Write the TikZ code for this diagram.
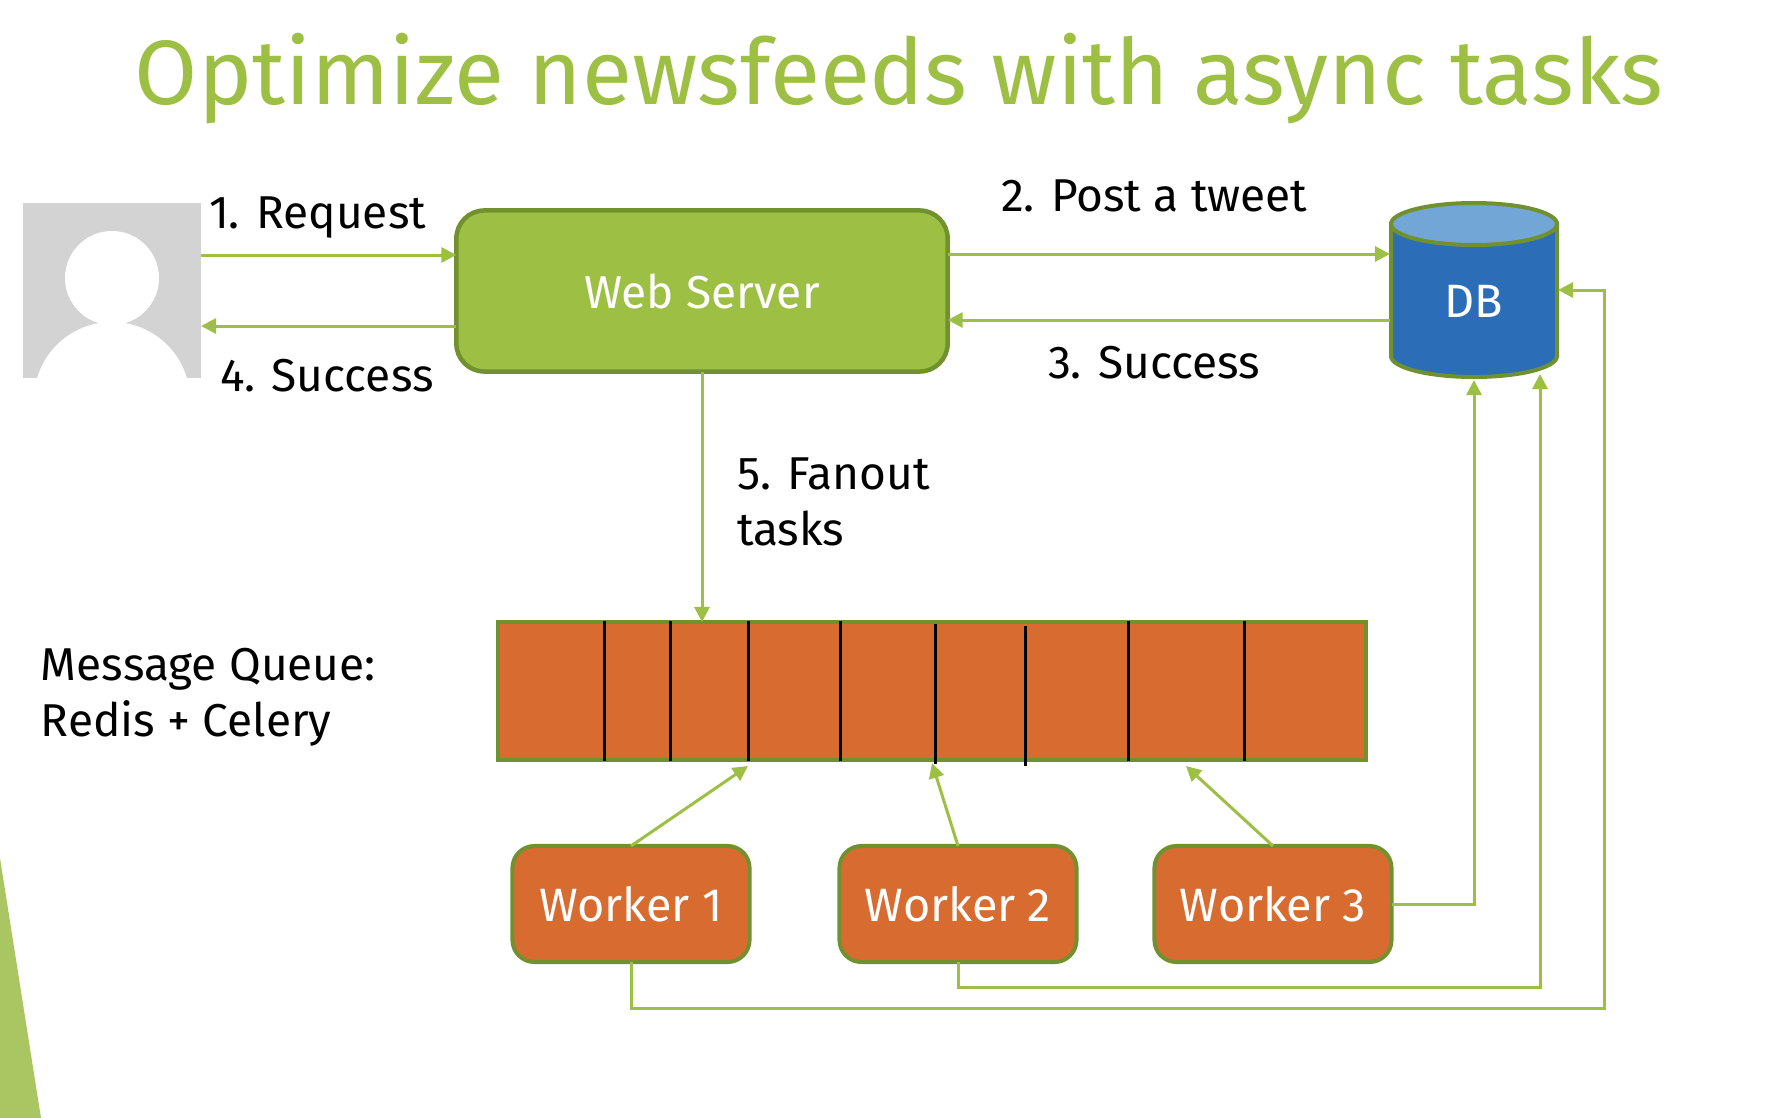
\documentclass[tikz,border=0pt]{standalone}
\usepackage{fontspec}
\setmainfont{Fira Sans}
\usetikzlibrary{arrows.meta}
\definecolor{leaf}{HTML}{9DC044}
\definecolor{leafdark}{HTML}{71912F}
\definecolor{leafpale}{HTML}{AAC662}
\definecolor{rust}{HTML}{D86C30}
\definecolor{dbblue}{HTML}{2B6EB7}
\definecolor{dbtop}{HTML}{71A6D6}
\definecolor{avatar}{HTML}{D3D3D3}

\begin{document}
\begin{tikzpicture}[x=0.01cm,y=-0.01cm]
\tikzstyle{every node}+=[inner sep=0pt,outer sep=0pt]
\tikzstyle{tag}=[anchor=base west,font=\fontsize{13.1}{15.9}\selectfont,align=left]
\tikzstyle{webbox}=[draw=leafdark,line width=0.045cm,fill=leaf,rounded corners=0.28cm,text=white,minimum width=4.91cm,minimum height=1.61cm,font=\fontsize{13.1}{16}\selectfont]
\tikzstyle{workerbox}=[draw=leafdark,line width=0.04cm,fill=rust,rounded corners=0.22cm,text=white,minimum width=2.37cm,minimum height=1.16cm,font=\fontsize{13.3}{16}\selectfont]
\tikzstyle{flow}=[draw=leaf,line width=0.03cm,-{Triangle[length=0.15cm,width=0.15cm]}]
\tikzstyle{slot}=[black,line width=0.03cm]
\useasboundingbox (0,0) rectangle (1784,1118);
\fill [leafpale] (0,858) -- (41,1118) -- (0,1118) -- cycle;
\node [anchor=base,text=leaf,font=\fontsize{26}{30}\selectfont] (title) at (899,104) {Optimize newsfeeds with async tasks};
\node [fill=avatar,minimum width=1.78cm,minimum height=1.75cm] (user) at (112,290.5) {};
\begin{scope}
\clip (23,203) rectangle (201,378);
\fill [white] (112,278) circle (47);
\fill [white] (112,400) circle (78);
\end{scope}
\node [webbox] (web) at (702,291) {Web Server};
\draw [draw=leafdark,fill=dbblue,line width=0.04cm] (1391,224) -- (1391,356) arc (180:0:83 and 21) -- (1557,224) -- cycle;
\draw [draw=leafdark,fill=dbtop,line width=0.04cm] (1474,224) ellipse (83 and 21);
\node [minimum width=1.68cm,minimum height=1.78cm] (db) at (1474,291) {};
\node [text=white,font=\fontsize{13.3}{16}\selectfont] (dbname) at (1474,301) {DB};
\node [draw=leafdark,line width=0.04cm,fill=rust,minimum width=8.68cm,minimum height=1.38cm] (queue) at (932,691) {};
\draw [slot] (604,621) -- (604,761);
\draw [slot] (670,621) -- (670,761);
\draw [slot] (748,621) -- (748,761);
\draw [slot] (840,621) -- (840,761);
\draw [slot] (935,624) -- (935,764);
\draw [slot] (1025,626) -- (1025,766);
\draw [slot] (1128,621) -- (1128,761);
\draw [slot] (1244,621) -- (1244,761);
\node [workerbox] (worker1) at (631,904) {Worker 1};
\node [workerbox] (worker2) at (958,904) {Worker 2};
\node [workerbox] (worker3) at (1273,904) {Worker 3};
\node [tag] (request) at (209,228) {1. Request};
\node [tag] (post) at (1001,211) {2. Post a tweet};
\node [tag] (dbok) at (1048,378) {3. Success};
\node [tag] (userok) at (220,391) {4. Success};
\node [tag] (fanout) at (737,545) {5. Fanout\\tasks};
\node [tag] (mq) at (41,736) {Message Queue:\\Redis + Celery};
\draw [flow] (user.east |- 0,255) -- (web.west |- 0,255);
\draw [flow] (web.west |- 0,326) -- (user.east |- 0,326);
\draw [flow] (web.east |- 0,254) -- (db.west |- 0,254);
\draw [flow] (db.west |- 0,320) -- (web.east |- 0,320);
\draw [flow] (web.south) -- (queue.north -| web.south);
\draw [flow] (worker1.north) -- (748,766);
\draw [flow] (worker2.north) -- (932,763);
\draw [flow] (worker3.north) -- (1186,766);
\draw [flow] (worker3.east) -| (db.south);
\draw [flow] (worker2.south) |- (1540,987) -- (1540,374);
\draw [flow] (worker1.south) |- (1604,1008) |- (db.east |- 0,290);
\end{tikzpicture}
\end{document}
